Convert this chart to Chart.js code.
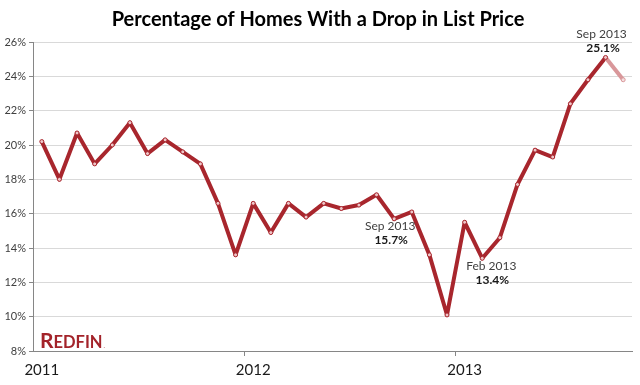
<!DOCTYPE html>
<html>
<head>
<meta charset="utf-8">
<script src="https://cdn.jsdelivr.net/npm/chart.js@4"></script>
<style>
  html, body { margin: 0; padding: 0; background: #fff; }
  #wrap { width: 640px; height: 385px; position: relative; }
</style>
</head>
<body>
<div id="wrap"><canvas id="listPriceChart"></canvas></div>
<script>
// Chart data
const months = [
    'Jan 2011', 'Feb 2011', 'Mar 2011', 'Apr 2011', 'May 2011', 'Jun 2011',
    'Jul 2011', 'Aug 2011', 'Sep 2011', 'Oct 2011', 'Nov 2011', 'Dec 2011',
    'Jan 2012', 'Feb 2012', 'Mar 2012', 'Apr 2012', 'May 2012', 'Jun 2012',
    'Jul 2012', 'Aug 2012', 'Sep 2012', 'Oct 2012', 'Nov 2012', 'Dec 2012',
    'Jan 2013', 'Feb 2013', 'Mar 2013', 'Apr 2013', 'May 2013', 'Jun 2013',
    'Jul 2013', 'Aug 2013', 'Sep 2013', 'Oct 2013'
];
const pctWithDrop = [
    20.2, 18.0, 20.7, 18.9, 20.0, 21.3, 19.5, 20.3, 19.6, 18.9, 16.6, 13.6,
    16.6, 14.9, 16.6, 15.8, 16.6, 16.3, 16.5, 17.1, 15.7, 16.1, 13.6, 10.1,
    15.5, 13.4, 14.6, 17.7, 19.7, 19.3, 22.4, 23.8, 25.1, 23.8
];
const yearTickIndex = [0, 12, 24];
const yearTickLabels = ['2011', '2012', '2013'];
const yTicks = [8, 10, 12, 14, 16, 18, 20, 22, 24, 26];

// callouts on the line (text copied as shown)
const calloutIndex = [20, 25, 32];
const calloutTitle = ['Sep 2013', 'Feb 2013', 'Sep 2013'];
const calloutValue = ['15.7%', '13.4%', '25.1%'];

const lineRed = '#a8262d';
const fadedRed = '#d9979a';
const lastIdx = pctWithDrop.length - 1;

const calloutPlugin = {
    id: 'callouts',
    afterDatasetsDraw(chart) {
        const c = chart.ctx;
        const xs = chart.scales.x;
        const ys = chart.scales.y;
        // where each callout sits relative to its point
        const offsets = [
            { dx: -4, dy: 7.5, dx2: -3, dy2: 21.5 },
            { dx: 9, dy: 7.5, dx2: 10, dy2: 21.5 },
            { dx: -4, dy: -23.5, dx2: -2.5, dy2: -9 }
        ];
        c.save();
        c.textAlign = 'center';
        c.textBaseline = 'middle';
        calloutIndex.forEach((idx, i) => {
            const x = xs.getPixelForValue(idx);
            const y = ys.getPixelForValue(pctWithDrop[idx]);
            const o = offsets[i];
            c.fillStyle = '#404040';
            c.font = '12px Lato';
            c.fillText(calloutTitle[i], x + o.dx, y + o.dy);
            c.fillStyle = '#1a1a1a';
            c.font = 'bold 12px Lato';
            c.fillText(calloutValue[i], x + o.dx2, y + o.dy2);
        });

        // Redfin wordmark, bottom left of the plot
        const left = chart.chartArea.left + 7;
        const base = chart.chartArea.bottom - 3;
        c.textAlign = 'left';
        c.textBaseline = 'alphabetic';
        c.fillStyle = '#a3232a';
        c.font = 'bold 21px Lato';
        c.fillText('R', left, base);
        const rw = c.measureText('R').width;
        c.font = 'bold 16.5px Lato';
        c.fillText('EDFIN', left + rw, base);
        const ew = c.measureText('EDFIN').width;
        c.font = '6px Lato';
        c.fillText('.', left + rw + ew + 1, base);
        c.restore();
    }
};

const ctx = document.getElementById('listPriceChart').getContext('2d');
new Chart(ctx, {
    type: 'line',
    data: {
        labels: months,
        datasets: [{
            data: pctWithDrop,
            borderColor: lineRed,
            borderWidth: 4,
            borderJoinStyle: 'round',
            tension: 0,
            pointRadius: 2,
            pointBorderWidth: 1,
            pointBackgroundColor: pctWithDrop.map((v, i) => i === lastIdx ? '#f4dede' : '#efc6c8'),
            pointBorderColor: pctWithDrop.map((v, i) => i === lastIdx ? fadedRed : lineRed),
            segment: {
                borderColor: s => s.p1DataIndex === lastIdx ? fadedRed : lineRed
            }
        }]
    },
    options: {
        responsive: true,
        maintainAspectRatio: false,
        animation: false,
        layout: { padding: { left: 4, right: 8, top: 1, bottom: 1 } },
        plugins: {
            legend: { display: false },
            tooltip: { enabled: false },
            title: {
                display: true,
                text: 'Percentage of Homes With a Drop in List Price',
                color: '#000',
                font: { family: 'Lato', size: 20, weight: 'bold' },
                padding: { top: 7, bottom: 10 }
            }
        },
        scales: {
            x: {
                type: 'category',
                offset: true,
                border: { color: '#868686', width: 1 },
                grid: {
                    offset: true,
                    drawOnChartArea: false,
                    tickLength: 5,
                    color: g => yearTickIndex.includes(g.index) && g.index > 0 ? '#868686' : 'rgba(0,0,0,0)'
                },
                ticks: {
                    autoSkip: false,
                    maxRotation: 0,
                    padding: 5,
                    color: '#1a1a1a',
                    font: { family: 'Lato', size: 15 },
                    callback: (v, i) => {
                        const k = yearTickIndex.indexOf(i);
                        return k >= 0 ? yearTickLabels[k] : '';
                    }
                }
            },
            y: {
                min: yTicks[0],
                max: yTicks[yTicks.length - 1],
                afterBuildTicks: s => { s.ticks = yTicks.map(v => ({ value: v })); },
                afterFit: s => { s.width = 29; },
                border: { color: '#868686', width: 1 },
                grid: {
                    color: '#d9d9d9',
                    tickColor: '#868686',
                    tickLength: 4
                },
                ticks: {
                    padding: 3,
                    color: '#404040',
                    font: { family: 'Lato', size: 11 },
                    callback: v => v + '%'
                }
            }
        }
    },
    plugins: [calloutPlugin]
});
</script>
</body>
</html>
